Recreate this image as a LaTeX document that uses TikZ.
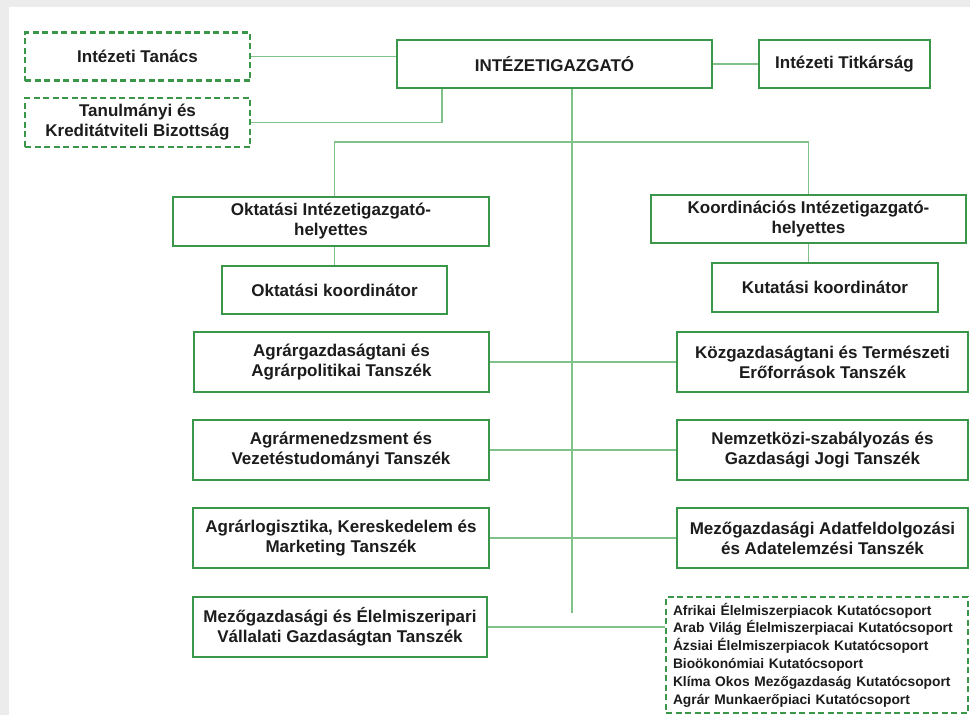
\documentclass[tikz,border=0pt]{standalone}
\usepackage{fontspec}
\setmainfont{Liberation Sans}
\definecolor{boxgreen}{RGB}{58,150,72}
\definecolor{linegreen}{RGB}{128,194,138}
\definecolor{txt}{RGB}{28,28,28}
\definecolor{bggrey}{RGB}{236,236,236}
\tikzset{
  unit/.style={draw=boxgreen, line width=2.2pt, fill=white, align=center, text=txt,
    font=\bfseries\fontsize{17}{20}\selectfont, inner sep=2pt},
  dashunit/.style={unit, dash pattern=on 6pt off 3.5pt},
  link/.style={draw=linegreen, line width=1.6pt},
}
\begin{document}
\begin{tikzpicture}[x=1pt,y=-1pt]
\useasboundingbox (0,0) rectangle (970,715);
\fill[bggrey] (0,0) rectangle (970,715);
\fill[white] (9,7) rectangle (970,715);

% top level
\node[dashunit, minimum width=225pt, minimum height=48pt] (tanacs) at (137.5,56.5) {Intézeti Tanács};
\node[dashunit, minimum width=225pt, minimum height=49pt] (tanul) at (137.5,122.5) {Tanulmányi és\\Kreditátviteli Bizottság};
\node[unit, minimum width=315pt, minimum height=48pt] (dir) at (554.5,64) {INTÉZETIGAZGATÓ};
\node[unit, minimum width=171pt, minimum height=48pt] (tit) at (844.5,64) {Intézeti Titkárság};

% deputies
\node[unit, minimum width=316pt, minimum height=49pt] (okt) at (331,221.5) {Oktatási Intézetigazgató-\\helyettes};
\node[unit, minimum width=225pt, minimum height=48pt] (oktk) at (334.5,290) {Oktatási koordinátor};
\node[unit, minimum width=315pt, minimum height=48pt] (koord) at (808.5,219) {Koordinációs Intézetigazgató-\\helyettes};
\node[unit, minimum width=226pt, minimum height=49pt] (kutk) at (825,287.5) {Kutatási koordinátor};

% departments left
\node[unit, minimum width=295pt, minimum height=60pt] (agr1) at (341.5,362) {Agrárgazdaságtani és\\Agrárpolitikai Tanszék};
\node[unit, minimum width=296pt, minimum height=60pt] (agr2) at (341,450) {Agrármenedzsment és\\Vezetéstudományi Tanszék};
\node[unit, minimum width=296pt, minimum height=60pt] (agr3) at (341,538) {Agrárlogisztika, Kereskedelem és\\Marketing Tanszék};
\node[unit, minimum width=294pt, minimum height=60pt] (mez) at (340,627) {Mezőgazdasági és Élelmiszeripari\\Vállalati Gazdaságtan Tanszék};

% departments right
\node[unit, minimum width=291pt, minimum height=60pt] (kozg) at (822.5,362) {Közgazdaságtani és Természeti\\Erőforrások Tanszék};
\node[unit, minimum width=291pt, minimum height=60pt] (nemz) at (822.5,450) {Nemzetközi-szabályozás és\\Gazdasági Jogi Tanszék};
\node[unit, minimum width=291pt, minimum height=60pt] (adat) at (822.5,538) {Mezőgazdasági Adatfeldolgozási\\és Adatelemzési Tanszék};

% research groups
\node[dashunit, minimum width=302pt, minimum height=116pt, align=left, text width=288pt,
      inner xsep=7pt, font=\bfseries\fontsize{13.8}{17.8}\selectfont] (groups) at (817,655)
  {Afrikai Élelmiszerpiacok Kutatócsoport\\
   Arab Világ Élelmiszerpiacai Kutatócsoport\\
   Ázsiai Élelmiszerpiacok Kutatócsoport\\
   Bioökonómiai Kutatócsoport\\
   Klíma Okos Mezőgazdaság Kutatócsoport\\
   Agrár Munkaerőpiaci Kutatócsoport};

% connectors
\coordinate (trunkend) at (572,613);
\coordinate (split) at (442,127);
\draw[link] (tanacs.east) -- (tanacs.east -| dir.west);
\draw[link] (dir.east) -- (tit.west);
\draw[link] (dir.south -| split) |- (tanul.east);
\draw[link] (dir.south -| trunkend) -- (trunkend);
\draw[link] (oktk.north |- okt.north) -- ++(0,-54) -| (koord.north);
\draw[link] (okt.south -| oktk.north) -- (oktk.north);
\draw[link] (koord.south) -- (koord.south |- kutk.north);
\draw[link] (agr1.east) -- (kozg.west);
\draw[link] (agr2.east) -- (nemz.west);
\draw[link] (agr3.east) -- (adat.west);
\draw[link] (mez.east) -- (mez.east -| groups.west);
\end{tikzpicture}
\end{document}
